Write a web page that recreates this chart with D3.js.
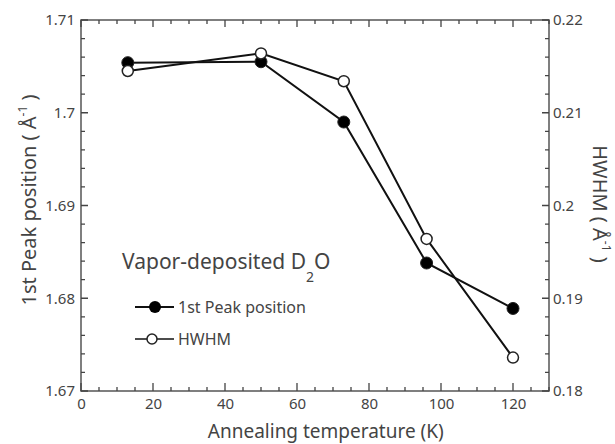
<!DOCTYPE html>
<html>
<head>
<meta charset="utf-8">
<script src="https://cdn.jsdelivr.net/npm/d3@7"></script>
<style>
  body { margin: 0; background: #fff; }
  text { font-family: "Noto Sans", "Open Sans", sans-serif; fill: #444; }
</style>
</head>
<body>
<svg id="chart"></svg>
<script>
// Data
const temps = [13, 50, 73, 96, 120];
const peakPosition = [1.7054, 1.7055, 1.6990, 1.6838, 1.6789];
const hwhm = [0.2145, 0.2164, 0.2134, 0.1964, 0.1836];

const xTicks = [0, 20, 40, 60, 80, 100, 120];
const leftTicks = [1.67, 1.68, 1.69, 1.7, 1.71];
const rightTicks = [0.18, 0.19, 0.2, 0.21, 0.22];

const W = 615, H = 444;
const margin = { top: 20, right: 66, bottom: 53, left: 81 };
const width = W - margin.left - margin.right;
const height = H - margin.top - margin.bottom;

const svg = d3.select("#chart")
    .attr("width", W)
    .attr("height", H)
    .append("g")
    .attr("transform", `translate(${margin.left},${margin.top})`);

const x = d3.scaleLinear().domain([0, 130]).range([0, width]);
const yL = d3.scaleLinear().domain([1.67, 1.71]).range([height, 0]);
const yR = d3.scaleLinear().domain([0.18, 0.22]).range([height, 0]);

const fmt = d => String(+d.toFixed(3));

// minor tick values
const xMinor = d3.range(0, 131, 5);
const yMinor = d3.range(0, 21); // 20 steps of 0.002 on both y scales

// frame
svg.append("rect").attr("width", width).attr("height", height)
    .attr("fill", "none").attr("stroke", "#555").attr("stroke-width", 1.5);

// inward ticks drawn from the scales
const xb = xMinor.map(d => `M${x(d)},${height}V${height - (d % 20 === 0 ? 8 : 4)}`).join("");
const xt = xMinor.map(d => `M${x(d)},0V${d % 20 === 0 ? 7 : 4}`).join("");
const ylt = yMinor.map(d => `M0,${yL(1.67 + d * 0.002)}H${d % 5 === 0 ? 7 : 4}`).join("");
const yrt = yMinor.map(d => `M${width},${yR(0.18 + d * 0.002)}H${width - (d % 5 === 0 ? 7 : 4)}`).join("");
svg.append("path")
    .attr("fill", "none").attr("stroke", "#444").attr("stroke-width", 1.3)
    .attr("d", xb + xt + ylt + yrt);

// tick labels through the axis generators
function labelsOnly(g) {
    g.select(".domain").remove();
    g.selectAll("line").remove();
    g.selectAll("text").style("font-size", "15px").attr("fill", "#555");
}
svg.append("g").attr("transform", `translate(0,${height})`)
    .call(d3.axisBottom(x).tickValues(xTicks).tickSize(0).tickPadding(7).tickFormat(d3.format("d")))
    .call(labelsOnly);
svg.append("g")
    .call(d3.axisLeft(yL).tickValues(leftTicks).tickSize(0).tickPadding(6).tickFormat(fmt))
    .call(labelsOnly);
svg.append("g").attr("transform", `translate(${width},0)`)
    .call(d3.axisRight(yR).tickValues(rightTicks).tickSize(0).tickPadding(4).tickFormat(fmt))
    .call(labelsOnly);

// series
const peakData = temps.map((t, i) => ({ t, v: peakPosition[i] }));
const hwhmData = temps.map((t, i) => ({ t, v: hwhm[i] }));

svg.append("path").datum(peakData)
    .attr("fill", "none").attr("stroke", "#111").attr("stroke-width", 2)
    .attr("d", d3.line().x(d => x(d.t)).y(d => yL(d.v)));
svg.append("path").datum(hwhmData)
    .attr("fill", "none").attr("stroke", "#111").attr("stroke-width", 2)
    .attr("d", d3.line().x(d => x(d.t)).y(d => yR(d.v)));

svg.selectAll(".peak").data(peakData).enter().append("circle")
    .attr("cx", d => x(d.t)).attr("cy", d => yL(d.v)).attr("r", 6)
    .attr("fill", "#000").attr("stroke", "#222").attr("stroke-width", 1);
svg.selectAll(".hw").data(hwhmData).enter().append("circle")
    .attr("cx", d => x(d.t)).attr("cy", d => yR(d.v)).attr("r", 5.5)
    .attr("fill", "#fff").attr("stroke", "#222").attr("stroke-width", 1.5);

// legend
const lg = svg.append("g").attr("transform", "translate(40,0)");
const title = lg.append("text").attr("x", 1).attr("y", 249).style("font-size", "21px").attr("fill", "#333");
title.append("tspan").text("Vapor-deposited D");
title.append("tspan").attr("dy", 13).style("font-size", "14px").text("2");
title.append("tspan").attr("dy", -13).text("O");

lg.append("line").attr("x1", 14).attr("x2", 53).attr("y1", 287).attr("y2", 287)
    .attr("stroke", "#111").attr("stroke-width", 2);
lg.append("circle").attr("cx", 34).attr("cy", 287).attr("r", 6).attr("fill", "#000");
lg.append("text").attr("x", 57).attr("y", 293).style("font-size", "16px").attr("fill", "#333").text("1st Peak position");

lg.append("line").attr("x1", 14).attr("x2", 53).attr("y1", 319).attr("y2", 319)
    .attr("stroke", "#111").attr("stroke-width", 1.5);
lg.append("circle").attr("cx", 31).attr("cy", 319).attr("r", 5).attr("fill", "#fff")
    .attr("stroke", "#222").attr("stroke-width", 1.5);
lg.append("text").attr("x", 57).attr("y", 325).style("font-size", "16px").attr("fill", "#333").text("HWHM");

// axis titles
svg.append("text")
    .attr("x", x(68)).attr("y", height + 47)
    .attr("text-anchor", "middle").style("font-size", "19px").attr("fill", "#333")
    .text("Annealing temperature (K)");

const ylab = svg.append("text")
    .attr("transform", `translate(${-45},${180}) rotate(-90)`)
    .attr("text-anchor", "middle").style("font-size", "20px").attr("fill", "#333");
ylab.append("tspan").text("1st Peak position ( Å");
ylab.append("tspan").attr("dy", -9).style("font-size", "12px").text("-1");
ylab.append("tspan").attr("dy", 9).text(" )");

const yrlab = svg.append("text")
    .attr("transform", `translate(${width + 44},${184}) rotate(90)`)
    .attr("text-anchor", "middle").style("font-size", "20px").attr("fill", "#333");
yrlab.append("tspan").text("HWHM ( Å");
yrlab.append("tspan").attr("dy", -9).style("font-size", "12px").text("-1");
yrlab.append("tspan").attr("dy", 9).text(" )");
</script>
</body>
</html>
